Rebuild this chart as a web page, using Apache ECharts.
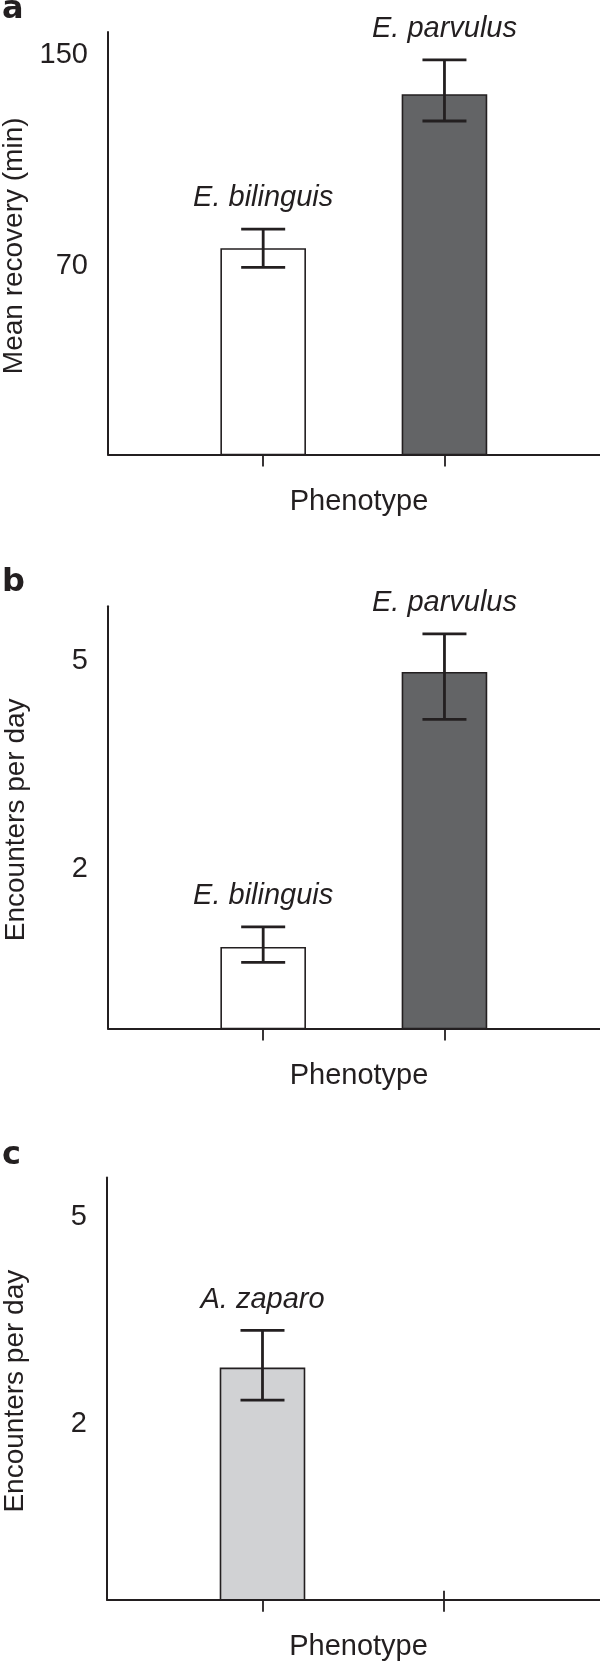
<!DOCTYPE html>
<html>
<head>
<meta charset="utf-8">
<script src="https://cdn.jsdelivr.net/npm/echarts@6/dist/echarts.min.js"></script>
<style>
html,body{margin:0;padding:0;background:#fff;}
#chart{width:600px;height:1662px;}
</style>
</head>
<body>
<div id="chart"></div>
<script>
// ---- data ----
const catA = ['E. bilinguis', 'E. parvulus'];
const meanA = [76.5, 135.0];
const lowA = [69.5, 125.1];
const highA = [84.0, 148.3];
const ticksA = [70, 150];

const catB = ['E. bilinguis', 'E. parvulus'];
const meanB = [0.87, 4.83];
const lowB = [0.66, 4.16];
const highB = [1.17, 5.39];
const ticksB = [2, 5];

const catC = ['A. zaparo'];
const meanC = [2.81];
const lowC = [2.35];
const highC = [3.36];
const ticksC = [2, 5];

const phenoTicks = [1, 2];

// ---- styles ----
const INK = '#231f20';
const FONT = 'Liberation Sans, Arial, Helvetica, sans-serif';
const FS = 29;
const FS_TITLE = 28;
const fillA = ['#ffffff', '#636466'];
const fillB = ['#ffffff', '#636466'];
const fillC = ['#d1d2d4'];

const panels = [
  {cat: catA, mean: meanA, low: lowA, high: highA, ticks: ticksA, fill: fillA,
   yMin: -1.6, yMax: 158.9, title: 'Mean recovery (min)', left: 108, top: 32, height: 422.6, letter: 'a', letterY: 9.5},
  {cat: catB, mean: meanB, low: lowB, high: highB, ticks: ticksB, fill: fillB,
   yMin: -0.293, yMax: 5.789, title: 'Encounters per day', left: 108, top: 606.2, height: 422.3, letter: 'b', letterY: 582.2},
  {cat: catC, mean: meanC, low: lowC, high: highC, ticks: ticksC, fill: fillC,
   yMin: -0.549, yMax: 5.58, title: 'Encounters per day', left: 107, top: 1177.5, height: 422.3, letter: 'c', letterY: 1155.5}
];

const X_MIN = 0.144, X_MAX = 2.858;
const BAR_W = 84, CAP_W = 44;

const grid = [], xAxis = [], yAxis = [], series = [], graphic = [];

panels.forEach((p, i) => {
  grid.push({left: p.left, right: 0, top: p.top, height: p.height, containLabel: false, outerBoundsMode: 'none'});
  xAxis.push({
    type: 'value', gridIndex: i, min: X_MIN, max: X_MAX, position: 'bottom',
    axisLine: {show: true, onZero: false, lineStyle: {color: INK, width: 2}},
    axisTick: {show: true, inside: true, length: 9, customValues: phenoTicks, lineStyle: {color: INK, width: 1.8}},
    axisLabel: {show: false},
    splitLine: {show: false},
    name: 'Phenotype', nameLocation: 'middle', nameGap: 33,
    nameTextStyle: {fontSize: FS, color: INK, fontFamily: FONT, padding: [0, 0, 0, 10]}
  });
  xAxis.push({
    type: 'value', gridIndex: i, min: X_MIN, max: X_MAX, position: 'bottom', offset: 0,
    axisLine: {show: false, onZero: false},
    axisTick: {show: true, inside: false, length: 12, customValues: phenoTicks, lineStyle: {color: INK, width: 1.8}},
    axisLabel: {show: false},
    splitLine: {show: false}
  });
  yAxis.push({
    type: 'value', gridIndex: i, min: p.yMin, max: p.yMax,
    axisLine: {show: true, onZero: false, lineStyle: {color: INK, width: 2}},
    axisTick: {show: false},
    splitLine: {show: false},
    axisLabel: {show: true, customValues: p.ticks, fontSize: FS, color: INK, fontFamily: FONT, margin: 20},
    name: p.title, nameLocation: 'middle', nameGap: 78,
    nameTextStyle: {fontSize: FS_TITLE, color: INK, fontFamily: FONT, padding: [0, 5, 0, 0]}
  });

  const xi = i * 2;
  const barData = p.mean.map((v, k) => [k + 1, v]);
  const errData = p.mean.map((v, k) => [k + 1, p.low[k], p.high[k]]);
  const yMin = p.yMin;
  const fills = p.fill;
  const cats = p.cat;

  series.push({
    type: 'custom', xAxisIndex: xi, yAxisIndex: i, z: 2,
    data: barData,
    renderItem: function (params, api) {
      const x = api.value(0), v = api.value(1);
      const t = api.coord([x, v]);
      const b = api.coord([x, yMin]);
      return {
        type: 'rect',
        shape: {x: t[0] - BAR_W / 2, y: t[1], width: BAR_W, height: b[1] - t[1]},
        style: {fill: fills[params.dataIndex], stroke: INK, lineWidth: 1.6}
      };
    }
  });
  series.push({
    type: 'custom', xAxisIndex: xi, yAxisIndex: i, z: 3,
    data: errData,
    renderItem: function (params, api) {
      const x = api.value(0);
      const lo = api.coord([x, api.value(1)]);
      const hi = api.coord([x, api.value(2)]);
      const st = {stroke: INK, lineWidth: 2.8};
      return {
        type: 'group',
        children: [
          {type: 'line', shape: {x1: lo[0], y1: lo[1], x2: hi[0], y2: hi[1]}, style: st},
          {type: 'line', shape: {x1: hi[0] - CAP_W / 2, y1: hi[1], x2: hi[0] + CAP_W / 2, y2: hi[1]}, style: st},
          {type: 'line', shape: {x1: lo[0] - CAP_W / 2, y1: lo[1], x2: lo[0] + CAP_W / 2, y2: lo[1]}, style: st},
          {type: 'text', style: {text: cats[params.dataIndex], x: hi[0], y: hi[1] - 31,
            align: 'center', verticalAlign: 'middle', fontSize: FS, fontStyle: 'italic',
            fontFamily: FONT, fill: INK}}
        ]
      };
    }
  });

  graphic.push({
    type: 'text',
    style: {text: p.letter, x: 2, y: p.letterY, fontSize: 32, fontWeight: 'bold', fontFamily: 'DejaVu Sans, sans-serif', fill: INK,
      verticalAlign: 'middle', align: 'left'}
  });
});

const chart = echarts.init(document.getElementById('chart'), null, {renderer: 'canvas'});
chart.setOption({
  animation: false,
  backgroundColor: '#ffffff',
  grid, xAxis, yAxis, series, graphic
});
</script>
</body>
</html>
